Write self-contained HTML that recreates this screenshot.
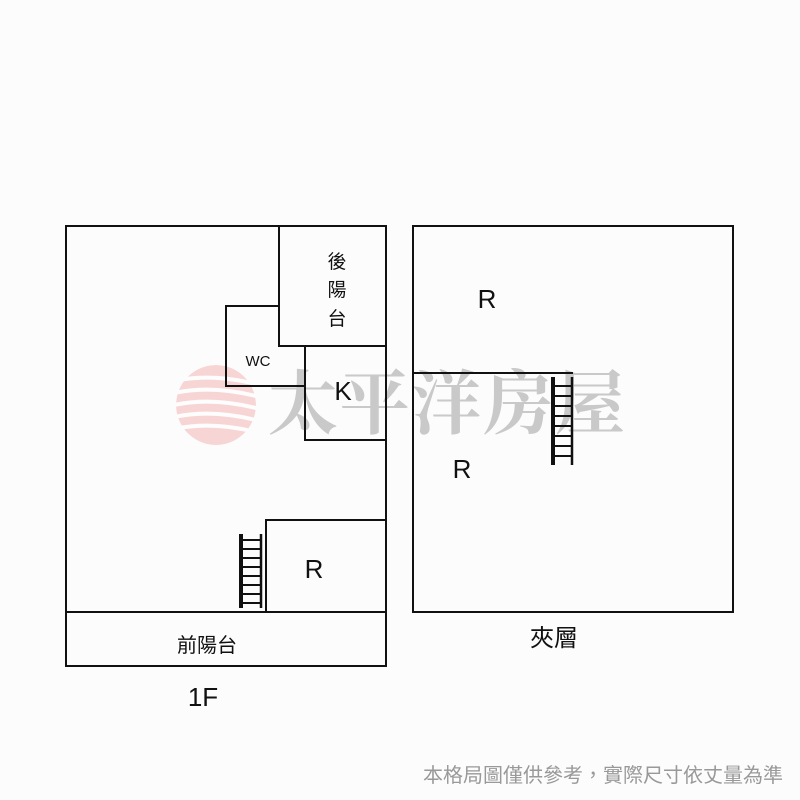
<!DOCTYPE html>
<html><head><meta charset="utf-8"><style>
html,body{margin:0;padding:0;background:#fff;}
svg{display:block;}
</style></head><body>
<svg width="800" height="800" viewBox="0 0 800 800" xmlns="http://www.w3.org/2000/svg" font-family="Liberation Sans, Noto Sans CJK TC, sans-serif">
<rect width="800" height="800" fill="#fcfcfc"/>
<defs><clipPath id="c"><circle cx="216" cy="405" r="40"/></clipPath></defs>
<g clip-path="url(#c)" opacity="0.45">
<circle cx="216" cy="405" r="40" fill="#f4a6a6"/>
<g stroke="#fff" stroke-width="4" fill="none">
<path d="M170 382 Q210 372 260 385"/><path d="M170 394 Q210 384 260 397"/><path d="M170 406 Q210 396 260 409"/><path d="M170 418 Q210 408 260 421"/><path d="M170 430 Q210 420 260 433"/>
</g></g>
<text x="268" y="428" font-family="Liberation Serif, Noto Serif CJK SC, serif" font-weight="bold" font-size="70" fill="#bdbdbd" opacity="0.8" textLength="357">太平洋房屋</text>
<g fill="none" stroke="#111" stroke-width="2">
<rect x="66" y="226" width="320" height="440"/>
<line x1="66" y1="612" x2="386" y2="612"/>
<rect x="279" y="226" width="107" height="120"/>
<polyline points="279,306 226,306 226,386 305,386"/>
<rect x="305" y="346" width="81" height="94"/>
<rect x="266" y="520" width="120" height="92"/>
<rect x="413" y="226" width="320" height="386"/>
<line x1="413" y1="373" x2="573" y2="373"/>
</g>
<g stroke="#111" fill="none">
<line x1="241" y1="534" x2="241" y2="608" stroke-width="4"/>
<line x1="261" y1="534" x2="261" y2="608" stroke-width="2.5"/>
<g stroke-width="2">
<line x1="241" y1="540" x2="261" y2="540"/><line x1="241" y1="549" x2="261" y2="549"/><line x1="241" y1="558" x2="261" y2="558"/><line x1="241" y1="567" x2="261" y2="567"/><line x1="241" y1="576" x2="261" y2="576"/><line x1="241" y1="585" x2="261" y2="585"/><line x1="241" y1="594" x2="261" y2="594"/><line x1="241" y1="603" x2="261" y2="603"/>
</g>
<line x1="553" y1="377" x2="553" y2="465" stroke-width="4"/>
<line x1="572" y1="377" x2="572" y2="465" stroke-width="2.5"/>
<g stroke-width="2">
<line x1="553" y1="386" x2="572" y2="386"/><line x1="553" y1="396" x2="572" y2="396"/><line x1="553" y1="406" x2="572" y2="406"/><line x1="553" y1="416" x2="572" y2="416"/><line x1="553" y1="426" x2="572" y2="426"/><line x1="553" y1="436" x2="572" y2="436"/><line x1="553" y1="446" x2="572" y2="446"/><line x1="553" y1="456" x2="572" y2="456"/>
</g>
</g>
<g fill="#111">
<text x="337" y="268" font-size="19" text-anchor="middle">後</text>
<text x="337" y="296" font-size="19" text-anchor="middle">陽</text>
<text x="337" y="325" font-size="19" text-anchor="middle">台</text>
<text x="258" y="366" font-size="15" text-anchor="middle">WC</text>
<text x="343" y="400" font-size="26" text-anchor="middle">K</text>
<text x="314" y="578" font-size="26" text-anchor="middle">R</text>
<text x="207" y="652" font-size="20" text-anchor="middle">前陽台</text>
<text x="203" y="706" font-size="26" text-anchor="middle">1F</text>
<text x="487" y="308" font-size="26" text-anchor="middle">R</text>
<text x="462" y="478" font-size="26" text-anchor="middle">R</text>
<text x="554" y="646" font-size="24" text-anchor="middle">夾層</text>
</g>
<text x="783" y="782" font-size="20" fill="#999" text-anchor="end">本格局圖僅供參考，實際尺寸依丈量為準</text>
</svg>
</body></html>
